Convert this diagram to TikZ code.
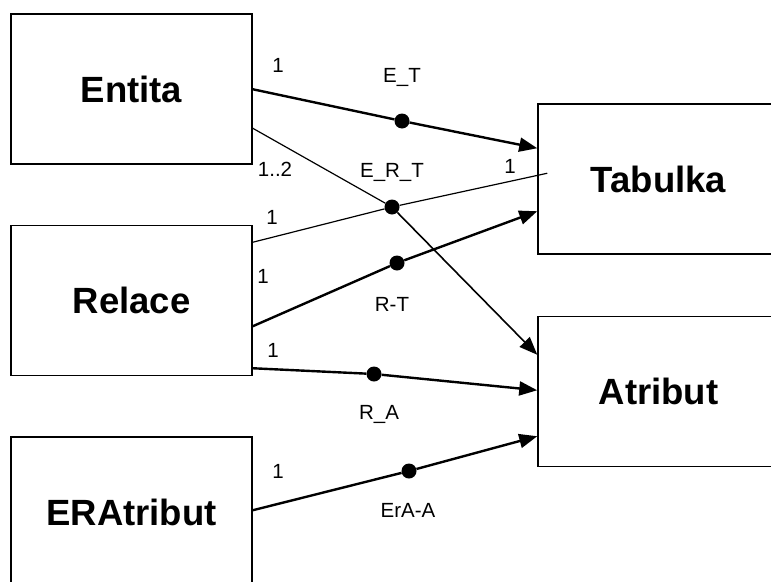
\documentclass[tikz,border=0pt]{standalone}
\usepackage{fontspec}
\setmainfont{Liberation Sans}
\usetikzlibrary{arrows.meta,calc}

\tikzset{
  box/.style={draw, line width=1.5pt, minimum width=241pt, minimum height=150pt,
    inner sep=0pt, font=\bfseries\fontsize{36.5}{40}\selectfont},
  dot/.style={circle, fill=black, minimum size=15pt, inner sep=0pt},
  lab/.style={inner sep=0pt, text height=0.72em, text depth=0pt,
    font=\fontsize{20.5}{23}\selectfont},
  thinline/.style={line width=1.2pt},
  midline/.style={line width=1.6pt},
  thickline/.style={line width=2.4pt},
  tip/.style={-{Triangle[length=18pt,width=14pt]}}
}

\begin{document}
\begin{tikzpicture}[x=1pt,y=-1pt]
\useasboundingbox (0,0) rectangle (771,581);
\clip (0,0) rectangle (771,581);

% boxes
\node[box] (ent) at (131.5,89)    {Entita};
\node[box] (rel) at (131.5,300.5) {Relace};
\node[box] (era) at (131.5,512)   {ERAtribut};
\node[box] (tab) at (658.5,179)   {Tabulka};
\node[box] (atr) at (658.5,391.5) {Atribut};

% attachment points on the box borders
\coordinate (entA) at ($(ent.north east)+(0,76)$);
\coordinate (entB) at ($(ent.north east)+(0,115)$);
\coordinate (relA) at ($(rel.north east)+(0,17.5)$);
\coordinate (relB) at ($(rel.north east)+(0,101.5)$);
\coordinate (relC) at ($(rel.north east)+(0,143.5)$);
\coordinate (eraA) at ($(era.north east)+(0,74)$);
\coordinate (tabA) at ($(tab.north west)+(0,45)$);
\coordinate (tabX) at ($(tab.north west)+(10,70)$);
\coordinate (tabB) at ($(tab.north west)+(0,108)$);
\coordinate (atrA) at ($(atr.north west)+(0,39)$);
\coordinate (atrB) at ($(atr.north west)+(0,74.5)$);
\coordinate (atrC) at ($(atr.north west)+(0,120.5)$);

% relationship dots
\node[dot] (dET)  at (402,121) {};
\node[dot] (dERT) at (392,207) {};
\node[dot] (dRT)  at (397,263) {};
\node[dot] (dRA)  at (374,374) {};
\node[dot] (dEA)  at (409,471) {};

% connectors
\draw[thickline,tip] (entA) -- (dET) -- (tabA);
\draw[thinline] (entB) -- (dERT);
\draw[thinline] (relA) -- (dERT) -- (tabX);
\draw[midline,tip] (dERT) -- (atrA);
\draw[thickline,tip] (relB) -- (dRT) -- (tabB);
\draw[thickline,tip] (relC) -- (dRA) -- (atrB);
\draw[thickline,tip] (eraA) -- (dEA) -- (atrC);

% labels
\node[lab] (c1) at (278,69)  {1};
\node[lab] (nET) at (402,79) {E\_T};
\node[lab] (c2) at (275,173) {1..2};
\node[lab] (nERT) at (392,174) {E\_R\_T};
\node[lab] (c3) at (510,170) {1};
\node[lab] (c4) at (272,221) {1};
\node[lab] (c5) at (263,280) {1};
\node[lab] (nRT) at (392,308) {R-T};
\node[lab] (c6) at (273,354) {1};
\node[lab] (nRA) at (379,416) {R\_A};
\node[lab] (c7) at (278,475) {1};
\node[lab] (nEA) at (408,514) {ErA-A};
\end{tikzpicture}
\end{document}
